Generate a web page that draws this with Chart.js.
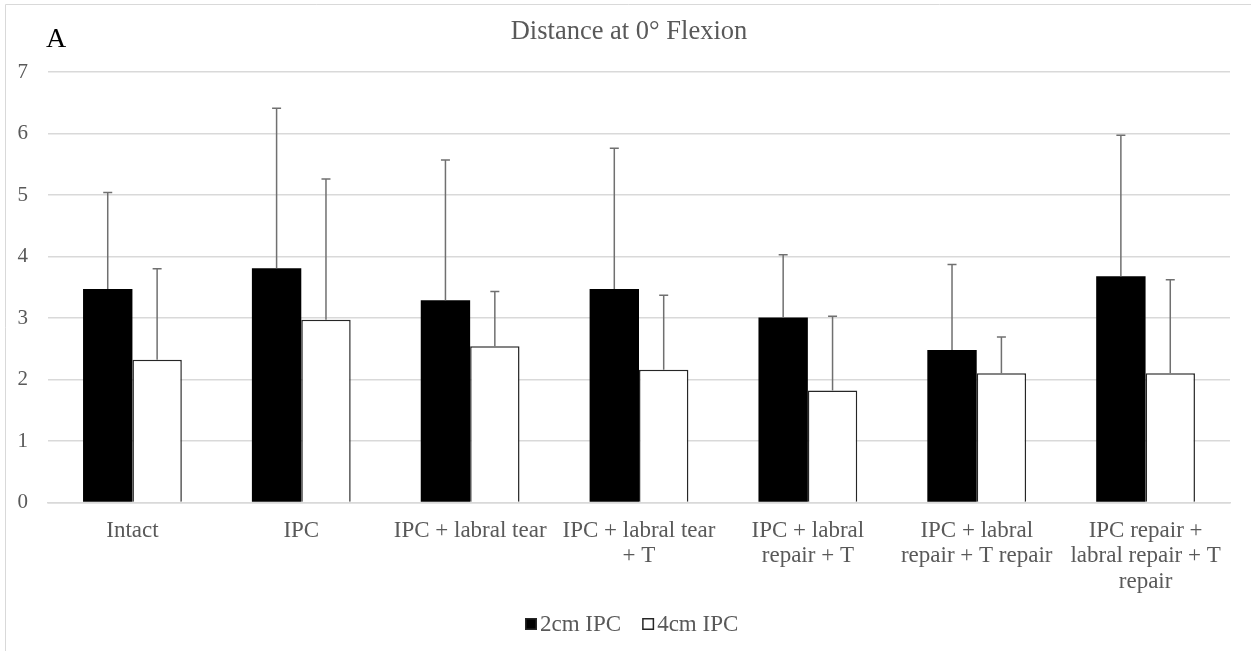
<!DOCTYPE html>
<html>
<head>
<meta charset="utf-8">
<script src="https://cdn.jsdelivr.net/npm/chart.js@4"></script>
<style>
  html, body { margin: 0; padding: 0; background: #fff; }
  #wrap { width: 1251px; height: 651px; }
</style>
</head>
<body>
<div id="wrap"><canvas id="chart-1" width="1251" height="651"></canvas></div>
<script>
const categories = [
  'Intact',
  'IPC',
  'IPC + labral tear',
  ['IPC + labral tear', '+ T'],
  ['IPC + labral', 'repair + T'],
  ['IPC + labral', 'repair + T repair'],
  ['IPC repair +', 'labral repair + T', 'repair']
];
const mean2cm = [3.47, 3.81, 3.29, 3.47, 3.01, 2.48, 3.68];
const sd2cm = [1.57, 2.60, 2.28, 2.29, 1.02, 1.39, 2.29];
const mean4cm = [2.32, 2.97, 2.54, 2.16, 1.82, 2.10, 2.10];
const sd4cm = [1.48, 2.29, 0.89, 1.21, 1.21, 0.59, 1.52];
const yTicks = [0, 1, 2, 3, 4, 5, 6, 7];

const serif = "'Liberation Serif', 'Times New Roman', serif";
const grey = '#595959';

// positive-only error bars with a small cap, drawn from the sd arrays
const errorBars = {
  id: 'errorBars',
  afterDatasetsDraw(chart) {
    const ctx = chart.ctx;
    const y = chart.scales.y;
    const sds = [sd2cm, sd4cm];
    ctx.save();
    ctx.strokeStyle = '#707070';
    ctx.lineWidth = 1.5;
    chart.data.datasets.forEach((ds, i) => {
      chart.getDatasetMeta(i).data.forEach((bar, j) => {
        const top = y.getPixelForValue(ds.data[j] + sds[i][j]);
        ctx.beginPath();
        ctx.moveTo(bar.x, bar.y);
        ctx.lineTo(bar.x, top);
        ctx.moveTo(bar.x - 4.5, top);
        ctx.lineTo(bar.x + 4.5, top);
        ctx.stroke();
      });
    });
    ctx.restore();
  }
};

// frame, title, panel letter and legend
const decorations = {
  id: 'decorations',
  afterDraw(chart) {
    const ctx = chart.ctx;
    ctx.save();
    ctx.strokeStyle = '#d9d9d9';
    ctx.lineWidth = 1;
    ctx.beginPath();
    ctx.moveTo(5.5, 651);
    ctx.lineTo(5.5, 4.5);
    ctx.lineTo(1251, 4.5);
    ctx.stroke();

    ctx.textBaseline = 'alphabetic';
    ctx.fillStyle = '#000';
    ctx.font = '28px ' + serif;
    ctx.textAlign = 'left';
    ctx.fillText('A', 46, 47);

    ctx.fillStyle = grey;
    ctx.font = '26.5px ' + serif;
    ctx.textAlign = 'center';
    ctx.fillText('Distance at 0° Flexion', 629, 39);

    // legend
    ctx.font = '23px ' + serif;
    ctx.textAlign = 'left';
    let x = 525;
    chart.data.datasets.forEach((ds) => {
      ctx.fillStyle = ds.backgroundColor;
      ctx.fillRect(x, 618, 12, 12);
      ctx.strokeStyle = '#262626';
      ctx.lineWidth = 1.5;
      ctx.strokeRect(x + 0.75, 618.75, 10.5, 10.5);
      ctx.fillStyle = grey;
      ctx.fillText(ds.label, x + 15, 631);
      x += 15 + ctx.measureText(ds.label).width + 21;
    });
    ctx.restore();
  }
};

new Chart(document.getElementById('chart-1').getContext('2d'), {
  type: 'bar',
  data: {
    labels: categories,
    datasets: [{
      label: '2cm IPC',
      data: mean2cm,
      backgroundColor: '#000000',
      borderColor: '#000000',
      borderWidth: 0,
    }, {
      label: '4cm IPC',
      data: mean4cm,
      backgroundColor: '#ffffff',
      borderColor: '#262626',
      borderWidth: 1.5,
      borderSkipped: 'bottom',
    }]
  },
  options: {
    responsive: false,
    animation: false,
    datasets: {
      bar: { categoryPercentage: 0.585, barPercentage: 1.0 }
    },
    layout: {
      padding: { top: 72, right: 21, bottom: 0, left: 0 }
    },
    plugins: {
      legend: { display: false },
      title: { display: false },
      tooltip: { enabled: false }
    },
    scales: {
      x: {
        grid: { display: false, drawTicks: false },
        border: { display: true, color: '#d9d9d9', width: 1.5 },
        ticks: {
          color: grey,
          font: { family: serif, size: 23, lineHeight: 1.1 },
          padding: 16,
          maxRotation: 0,
          autoSkip: false
        },
        afterFit: (scale) => { scale.height = 148.5; }
      },
      y: {
        min: 0,
        max: 7,
        afterBuildTicks: (scale) => { scale.ticks = yTicks.map(v => ({ value: v })); },
        grid: { color: '#d9d9d9', lineWidth: 1.5, drawTicks: false },
        border: { display: false },
        ticks: {
          color: grey,
          font: { family: serif, size: 21 },
          padding: 20
        },
        afterFit: (scale) => { scale.width = 48; }
      }
    }
  },
  plugins: [errorBars, decorations]
});
</script>
</body>
</html>
